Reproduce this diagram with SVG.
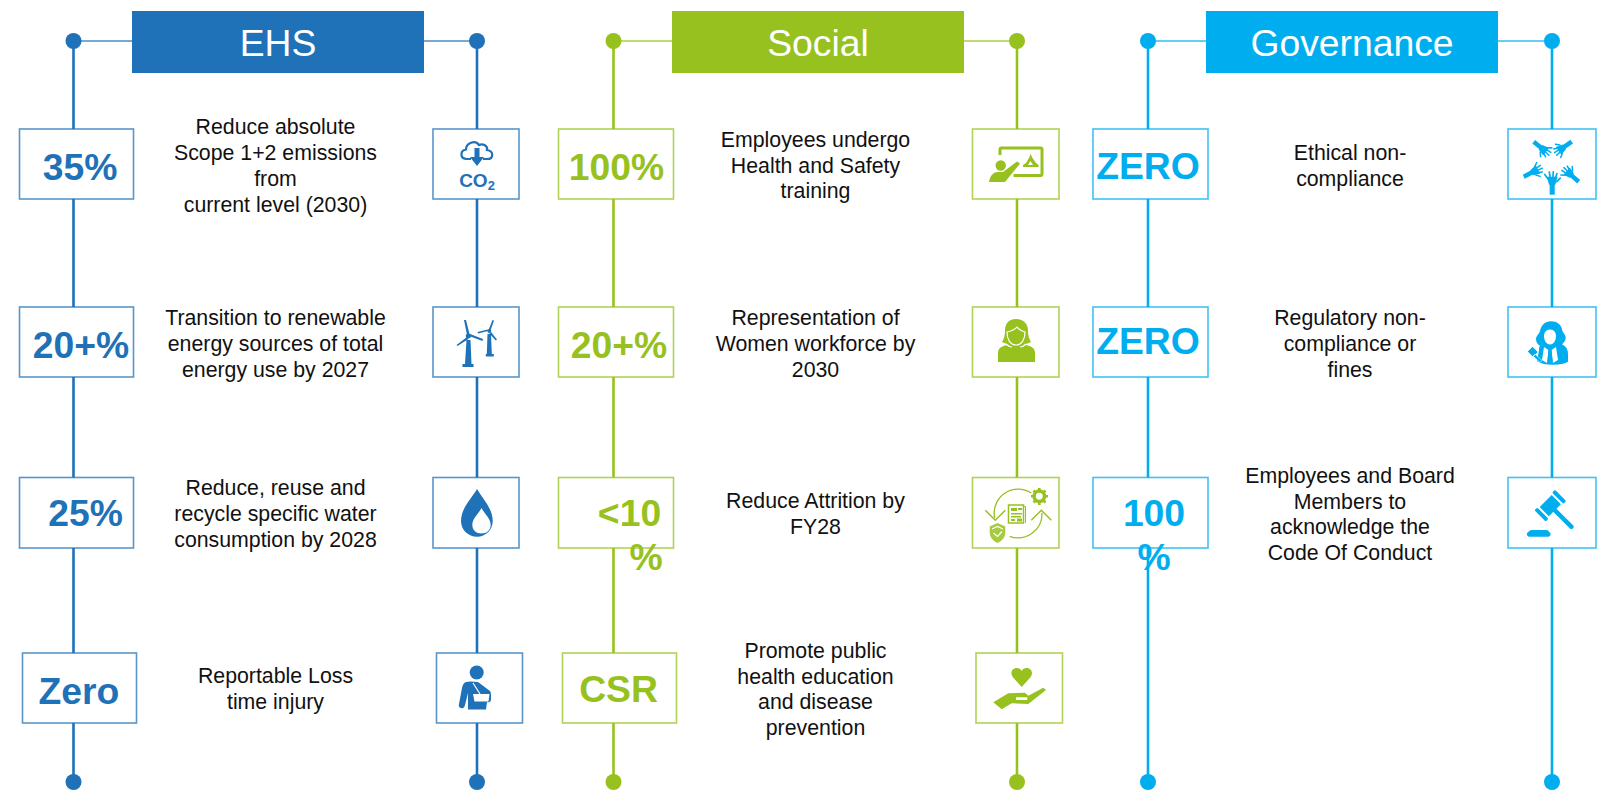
<svg xmlns="http://www.w3.org/2000/svg" width="1600" height="794" viewBox="0 0 1600 794">
<style>
text{font-family:"Liberation Sans",Arial,sans-serif}
.ehs{color:#1f71b8}.soc{color:#97c11f}.gov{color:#00aeef}
.hdr{fill:currentColor}
.ht{fill:#fff;font-size:37.3px;text-anchor:middle}
.box{fill:#fff;stroke:currentColor;stroke-width:1.6;stroke-opacity:.75}
.num{fill:currentColor;font-size:37.3px;font-weight:700;text-anchor:middle}
.txt{fill:#111;font-size:21.3px;text-anchor:middle}
.v{stroke:currentColor;stroke-width:2.6;fill:none}
.h{stroke:currentColor;stroke-width:1.6;stroke-opacity:.8;fill:none}
.dot{fill:currentColor}
.f{fill:currentColor}
.w{fill:#fff}
.wl{fill:none;stroke:#fff;stroke-width:1.2}
.o{fill:none;stroke:currentColor}
</style>
<defs>
<g id="hand">
<rect x="-2.800" y="-12" width="5.600" height="12"/>
<path d="M-6 -20h12l-2.500 9h-7z"/>
<path fill="none" stroke="currentColor" stroke-width="1.900" stroke-linecap="round" d="M-5 -18L-8.300 -22.500M-2.200 -19L-3.200 -25M.8 -19L1.200 -25.500M3.500 -18.500L5.300 -23.500M5 -14.500L9 -18.500"/>
</g>
</defs>
<g id="connectors">
<g class="ehs">
<path class="v" d="M73.500 41V782M477 41V782"/><path class="h" d="M73.500 41H132M424 41H477"/>
<circle class="dot" cx="73.500" cy="41" r="8"/><circle class="dot" cx="477" cy="41" r="8"/><circle class="dot" cx="73.500" cy="782" r="8"/><circle class="dot" cx="477" cy="782" r="8"/>
</g>
<g class="soc">
<path class="v" d="M613.500 41V782M1017 41V782"/><path class="h" d="M613.500 41H672M964 41H1017"/>
<circle class="dot" cx="613.500" cy="41" r="8"/><circle class="dot" cx="1017" cy="41" r="8"/><circle class="dot" cx="613.500" cy="782" r="8"/><circle class="dot" cx="1017" cy="782" r="8"/>
</g>
<g class="gov">
<path class="v" d="M1148 41V782M1552 41V782"/><path class="h" d="M1148 41H1206M1498 41H1552"/>
<circle class="dot" cx="1148" cy="41" r="8"/><circle class="dot" cx="1552" cy="41" r="8"/><circle class="dot" cx="1148" cy="782" r="8"/><circle class="dot" cx="1552" cy="782" r="8"/>
</g>
</g>

<g id="header-ehs" class="ehs"><rect class="hdr" x="132" y="11" width="292" height="62"/><text class="ht" x="278" y="56">EHS</text></g>
<g id="header-social" class="soc"><rect class="hdr" x="672" y="11" width="292" height="62"/><text class="ht" x="818" y="56">Social</text></g>
<g id="header-governance" class="gov"><rect class="hdr" x="1206" y="11" width="292" height="62"/><text class="ht" x="1352" y="56">Governance</text></g>

<g id="ehs-1" class="ehs">
<rect class="box" x="19.500" y="129" width="114" height="70"/><text class="num" x="80" y="180">35%</text>
<text class="txt"><tspan x="275.500" y="134">Reduce absolute</tspan><tspan x="275.500" y="160">Scope 1+2 emissions</tspan><tspan x="275.500" y="186">from</tspan><tspan x="275.500" y="211.500">current level (2030)</tspan></text>
<rect class="box" x="433" y="129" width="86" height="70"/>
<path class="o" stroke-width="2.200" d="M471 159H467C459.500 159 460 150.500 466 149.500C466 143 475 139.500 479 145C483 143 488 146 487 150C494 151 494 159 487 159H483"/>
<path class="f" d="M474.500 148h5v9h4.500l-7 9-7-9h4.500z"/>
<text class="f" x="477" y="187" font-size="19" font-weight="700" text-anchor="middle">CO<tspan font-size="13" dy="3">2</tspan></text>
</g>
<g id="ehs-2" class="ehs">
<rect class="box" x="19.500" y="307" width="114" height="70"/><text class="num" x="81" y="358">20+%</text>
<text class="txt"><tspan x="275.500" y="325">Transition to renewable</tspan><tspan x="275.500" y="351">energy sources of total</tspan><tspan x="275.500" y="376.500">energy use by 2027</tspan></text>
<rect class="box" x="433" y="307" width="86" height="70"/>
<path class="f" d="M464 320l2 0 3.500 14-2.500 1zM470 334l13 5-.5 2-13.500-5zM467 337l1.500 2-11 7-1-1zM466.500 340h4l1 24h2v3h-11v-3h2.500z"/>
<circle class="f" cx="468.300" cy="336" r="2.500"/>
<path class="f" d="M492.500 320l1.500.5-3.500 10-2-.5zM488 331l-10 2.500-.5-1.500 10-2.500zM491 332l6 7.500-1.200 1-6.500-7zM487.500 334h3.500l.8 20h2v2.500h-8v-2.500h1z"/>
<circle class="f" cx="489.300" cy="331" r="2"/>
</g>
<g id="ehs-3" class="ehs">
<rect class="box" x="19.500" y="477.500" width="114" height="70.500"/><text class="num" x="85.500" y="525.500">25%</text>
<text class="txt"><tspan x="275.500" y="495">Reduce, reuse and</tspan><tspan x="275.500" y="521">recycle specific water</tspan><tspan x="275.500" y="546.500">consumption by 2028</tspan></text>
<rect class="box" x="433" y="477.500" width="86" height="70.500"/>
<path class="f" d="M477 489c5 9 15.700 19 15.700 32 0 9-7 15.700-15.700 15.700s-16-6.700-16-15.700c0-13 11-23 16-32z"/>
<path class="w" d="M481.500 508c3 6 9.200 10 9.200 17 0 5-4 8.500-9.200 8.500s-9.200-3.500-9.200-8.500c0-7 6.200-11 9.200-17z"/>
</g>
<g id="ehs-4" class="ehs">
<rect class="box" x="22.500" y="653" width="114" height="70"/><text class="num" x="79" y="704">Zero</text>
<text class="txt"><tspan x="275.500" y="683">Reportable Loss</tspan><tspan x="275.500" y="708.500">time injury</tspan></text>
<rect class="box" x="436.500" y="653" width="86" height="70"/>
<circle class="f" cx="476.700" cy="672.500" r="7"/>
<path class="f" d="M466 682L470 681.500L478 682L490 691Q491 692 491 695V699Q491 703 487 702L486 709.500H468V693L465 705Q464 709 461 708Q458 707 459 704L462 688Q463 683 466 682Z"/>
<path class="w" d="M473 694H489.500L488.500 701.500H474.500Z"/>
<path class="wl" d="M473 683L480 694"/>
</g>

<g id="soc-1" class="soc">
<rect class="box" x="558.500" y="129" width="115" height="70"/><text class="num" x="616.500" y="180">100%</text>
<text class="txt"><tspan x="815.500" y="147">Employees undergo</tspan><tspan x="815.500" y="173">Health and Safety</tspan><tspan x="815.500" y="198">training</tspan></text>
<rect class="box" x="972.500" y="129" width="86.500" height="70"/>
<path class="o" stroke-width="3" d="M1000 155v-5.500q0-1.500 1.500-1.500h39q1.500 0 1.500 1.500v24.500q0 1.500-1.500 1.500h-27"/>
<circle class="f" cx="1000.700" cy="165.500" r="5.200"/>
<path class="f" d="M989 182c1-7 5-10 9-10h5l14-10.500 3 2-15 18.500z"/>
<path class="f" d="M1030.500 154l2 4 3.500 5 2.500 2v2h-15.500v-2l3-2 3-5z"/>
<path class="w" d="M1028 165l2.500-4 2.500 4z"/>
</g>
<g id="soc-2" class="soc">
<rect class="box" x="558.500" y="307" width="115" height="70"/><text class="num" x="619" y="358">20+%</text>
<text class="txt"><tspan x="815.500" y="325">Representation of</tspan><tspan x="815.500" y="351">Women workforce by</tspan><tspan x="815.500" y="376.500">2030</tspan></text>
<rect class="box" x="972.500" y="307" width="86.500" height="70"/>
<path class="f" d="M1016 319c8 0 12 5 12 12 0 4 1 8 3 11l-5 2v1c5 1 9 3 9 8v9h-37v-9c0-5 4-7 9-8v-1l-5-2c2-3 3-7 3-11 0-7 3-12 11-12z"/>
<path class="wl" d="M1007 332c4-1 8-2 10-5 2 3 5 4 8 5 0 7-3 13-9 13s-9-6-9-13z"/>
<path class="wl" d="M1006 344c2 2 4 3 6 3M1026 344c-2 2-4 3-6 3"/>
</g>
<g id="soc-3" class="soc">
<rect class="box" x="558.500" y="477.500" width="115" height="70.500"/><text class="num" x="629.500" y="525.500">&lt;10</text><text class="num" x="646" y="570">%</text>
<text class="txt"><tspan x="815.500" y="508">Reduce Attrition by</tspan><tspan x="815.500" y="534">FY28</tspan></text>
<rect class="box" x="972.500" y="477.500" width="86.500" height="70.500"/>
<path class="o" stroke-width="1.300" d="M1031.300 493A24 24 0 0 0 994.700 518M1009.700 536.300A24 24 0 0 0 1042 513"/>
<path class="o" stroke-width="1.500" d="M985.300 510.300l10 10 10-10M1031.300 520.300l10-10 10 10"/>
<rect class="o" stroke-width="1.500" x="1008.500" y="505" width="15" height="18"/>
<path class="o" stroke-width="1" d="M1023.500 506.500h2v16.500"/>
<path class="f" d="M1011 508h6v3h-6zM1018 508h4v2h-4zM1011 516h10v1.500h-10zM1011 513h11v1.500h-11zM1017 518.500h5v3h-5zM1011 519h4v2h-4z"/>
<circle class="o" stroke-width="3.500" cx="1039.300" cy="496.300" r="5.200"/>
<path class="o" stroke-width="2.600" d="M1039.300 488v2.500M1039.300 502.500v2.500M1031 496.300h2.500M1045.500 496.300h2.500M1033.500 490.500l2 2M1043.500 500.500l2 2M1045.500 490.500l-2 2M1035.500 500.500l-2 2"/>
<path class="f" fill-opacity=".85" d="M997.500 523l7.800 3.500v6c0 5-3.500 8.500-7.800 10.500-4.300-2-7.800-5.500-7.800-10.500v-6z"/>
<path class="wl" d="M992 529l5.500-2.500 5.500 2.500M993.500 533l4 3.500 4.500-5"/>
</g>
<g id="soc-4" class="soc">
<rect class="box" x="562.500" y="653" width="114" height="70"/><text class="num" x="618.500" y="702">CSR</text>
<text class="txt"><tspan x="815.500" y="658">Promote public</tspan><tspan x="815.500" y="684">health education</tspan><tspan x="815.500" y="709">and disease</tspan><tspan x="815.500" y="734.500">prevention</tspan></text>
<rect class="box" x="976" y="653" width="86.500" height="70"/>
<path class="f" d="M1021.700 687l-9-10c-3-4-.5-9 4-9 2.500 0 4 1 5 3 1-2 2.500-3 5-3 4.500 0 7 5 4 9z"/>
<path class="f" d="M993.300 702.300L1008.300 693.300L1025 692.700L1028.300 695.700L1043.300 687.700L1046 690L1028.300 704L1011.700 703.300L1001.700 709.300Z"/>
<path class="w" d="M1016 697.300h11.300v2.700h-11.300z"/>
</g>

<g id="gov-1" class="gov">
<rect class="box" x="1093" y="129" width="115" height="70"/><text class="num" x="1148" y="179">ZERO</text>
<text class="txt"><tspan x="1350" y="160">Ethical non-</tspan><tspan x="1350" y="186">compliance</tspan></text>
<rect class="box" x="1508" y="129" width="88" height="70"/>
<g class="f" transform="translate(1551.700 165.700)">
<use href="#hand" transform="translate(.5 29) scale(.9)"/>
<use href="#hand" transform="translate(-18 -24) rotate(129) scale(.8)"/>
<use href="#hand" transform="translate(20 -24) rotate(-125) scale(.8)"/>
<use href="#hand" transform="translate(-28 11) rotate(63) scale(.8)"/>
<use href="#hand" transform="translate(27 16) rotate(-49) scale(.8)"/>
</g>
</g>
<g id="gov-2" class="gov">
<rect class="box" x="1093" y="307" width="115" height="70"/><text class="num" x="1148" y="354">ZERO</text>
<text class="txt"><tspan x="1350" y="325">Regulatory non-</tspan><tspan x="1350" y="351">compliance or</tspan><tspan x="1350" y="376.500">fines</tspan></text>
<rect class="box" x="1508" y="307" width="88" height="70"/>
<path class="f" d="M1551 321.300c6 0 10 3 11 8 0 3 3.700 5 3.700 8.500 0 3-2 5-3.700 6.500 4 2 6 5 6 9.500v8c-3 2-8 3-15 3-7 0-12-1-16-3.500l2-11c0-2 0-3 1-4.500-2-1-4-3.500-4-6.500 0-3.500 3-5 4-8 1-6 5-10 11-10z"/>
<path class="w" d="M1550 329.500c4 0 6 3 6 6.500 0 5-3 8.500-6 8.500s-6-3.500-6-8.500c0-3.500 2-6.500 6-6.500zM1544 347l4.500 3-1.500 13-5-3zM1556 347l-4.500 3 1.500 13 5-3z"/>
<path class="f" d="M1548.700 350h2.600l.7 2-.5 2 1 7-2.500 2.500-2.500-2.500 1-7-.5-2z"/>
<path class="f" stroke="#fff" stroke-width=".6" d="M1532.500 346.500l5.500 5.500-5 5-5.500-5.500zM1535 354l7 6.500-2 2-7-6.500z"/>
</g>
<g id="gov-3" class="gov">
<rect class="box" x="1093" y="477.500" width="115" height="70.500"/><text class="num" x="1154" y="525.500">100</text><text class="num" x="1154" y="570">%</text>
<text class="txt"><tspan x="1350" y="483">Employees and Board</tspan><tspan x="1350" y="509">Members to</tspan><tspan x="1350" y="534">acknowledge the</tspan><tspan x="1350" y="560">Code Of Conduct</tspan></text>
<rect class="box" x="1508" y="477.500" width="88" height="70.500"/>
<g class="f" transform="translate(1550.300 505.700) rotate(45)">
<rect x="-6.500" y="-8.500" width="13" height="17"/>
<rect x="-8" y="-14.500" width="16" height="4" rx="1.500"/>
<rect x="-8" y="10.500" width="16" height="4" rx="1.500"/>
<rect x="0" y="-2.200" width="32" height="4.400" rx="2"/>
</g>
<path class="f" d="M1532 530h14c2 0 3 1 3 2 2 .5 2.500 4-.5 4.700h-19.500c-3-.7-2.500-4.200-.5-4.700 0-1 1.500-2 3.500-2z"/>
</g>
</svg>
